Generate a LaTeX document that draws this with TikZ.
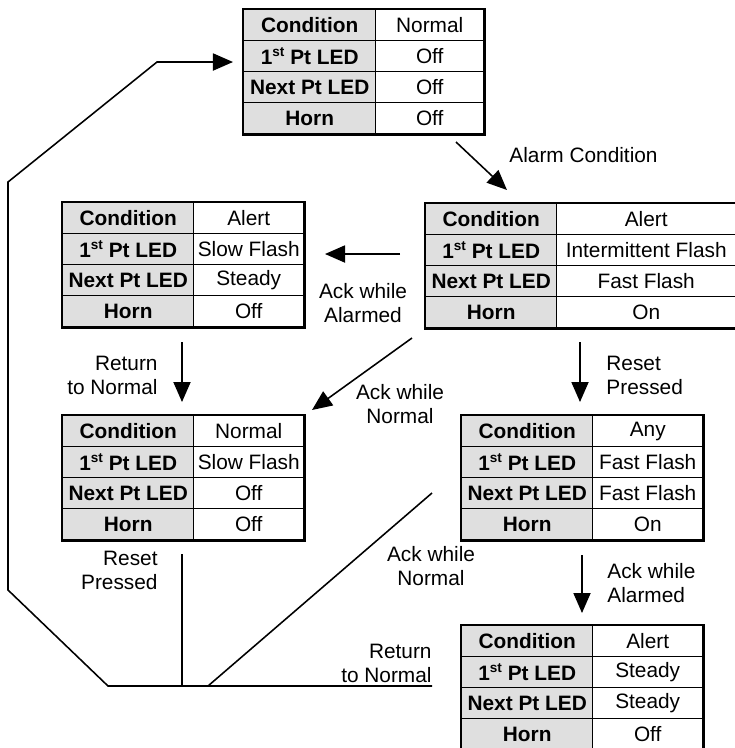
\documentclass[tikz,border=0pt]{standalone}
\usepackage{fontspec}
\setmainfont{Liberation Sans}
\usetikzlibrary{arrows.meta}

\tikzset{
  cell/.style={draw, line width=0.7pt, inner sep=0pt, minimum height=31*0.48pt, anchor=north west},
  labcell/.style={cell, fill=gray!25, font=\bfseries},
  valcell/.style={cell, fill=white},
  conn/.style={line width=0.75pt},
  flow/.style={-{Triangle[length=9.6pt,width=8.2pt]}},
  note/.style={inner sep=0pt},
}

% Small raised "st"
\newcommand\supst{\raisebox{0.75ex}{\fontsize{6.5}{6.5}\selectfont st}}

% One state table: name, x, y, column widths, then the four entries
\newcommand\ledtable[9]{
  \foreach \lab/\val [count=\i from 0] in {Condition/#6, 1\supst\ Pt LED/#7, Next Pt LED/#8, Horn/#9} {
    \node[labcell, minimum width=#4*0.48pt] (#1-l\i) at (#2,#3+\i*31) {\lab};
    \node[valcell, minimum width=#5*0.48pt] (#1-v\i) at (#2+#4,#3+\i*31) {\val};
  }
  \draw[line width=1pt] (#1-l0.north west) rectangle (#1-v3.south east);
}

\begin{document}
\begin{tikzpicture}[x=0.48pt, y=-0.48pt, font=\fontsize{10}{11.5}\selectfont]
  \useasboundingbox (0,0) rectangle (735,748);
  % State tables
  \ledtable{normal}{243}{9}{132}{108}{Normal}{Off}{Off}{Off}
  \ledtable{alarm}{425}{203}{131}{179}{Alert}{Intermittent Flash}{Fast Flash}{On}
  \ledtable{ackd}{62}{202}{131}{110}{Alert}{Slow Flash}{Steady}{Off}
  \ledtable{ringback}{62}{415}{131}{110}{Normal}{Slow Flash}{Off}{Off}
  \ledtable{reset}{461}{415}{131}{110}{Any}{Fast Flash}{Fast Flash}{On}
  \ledtable{steady}{461}{625}{131}{110}{Alert}{Steady}{Steady}{Off}

  % Connector ends
  \coordinate (alarm-s) at (456,142);  \coordinate (alarm-e) at (507,190);
  \coordinate (ackal-s) at (400,254);  \coordinate (ackal-e) at (325,254);
  \coordinate (ackno-s) at (412,338);  \coordinate (ackno-e) at (312,410);
  \coordinate (ret-s) at (182,342);    \coordinate (ret-e) at (182,402);
  \coordinate (rst-s) at (580,342);    \coordinate (rst-e) at (580,402);
  \coordinate (acka-s) at (582,555);   \coordinate (acka-e) at (582,613);
  \coordinate (ackn2-s) at (432,493);  \coordinate (j2) at (208,686);
  \coordinate (rst2-s) at (182,554);   \coordinate (j1) at (182,686);
  \coordinate (ret2-s) at (432,686);   \coordinate (j0) at (108,686);
  \coordinate (b1) at (8,590);  \coordinate (b2) at (8,182);
  \coordinate (b3) at (157,62); \coordinate (home) at (233,62);

  % Transitions
  \draw[conn, flow] (alarm-s) -- (alarm-e);
  \draw[conn, flow] (ackal-s) -- (ackal-e);
  \draw[conn, flow] (ackno-s) -- (ackno-e);
  \draw[conn, flow] (ret-s) -- (ret-e);
  \draw[conn, flow] (rst-s) -- (rst-e);
  \draw[conn, flow] (acka-s) -- (acka-e);
  \draw[conn] (ackn2-s) -- (j2);
  \draw[conn] (rst2-s) -- (j1);
  % Back to the normal state — round the left side
  \draw[conn, flow] (ret2-s) -- (j0) -- (b1) -- (b2) -- (b3) -- (home);

  % Labels
  \node[note, anchor=west] (alarm-t) at (509,155) {Alarm Condition};
  \node[note, align=center] (ackal-t) at (363,303) {Ack while\\Alarmed};
  \node[note, align=center] (ackno-t) at (400,404) {Ack while\\Normal};
  \node[note, anchor=east, align=right] (ret-t) at (158,375) {Return\\to Normal};
  \node[note, anchor=west, align=left] (rst-t) at (606,375) {Reset\\Pressed};
  \node[note, anchor=west, align=left] (acka-t) at (607,583) {Ack while\\Alarmed};
  \node[note, align=center] (ackn2-t) at (431,566) {Ack while\\Normal};
  \node[note, anchor=east, align=right] (rst2-t) at (158,570) {Reset\\Pressed};
  \node[note, anchor=east, align=right] (ret2-t) at (432,663) {Return\\to Normal};
\end{tikzpicture}
\end{document}
